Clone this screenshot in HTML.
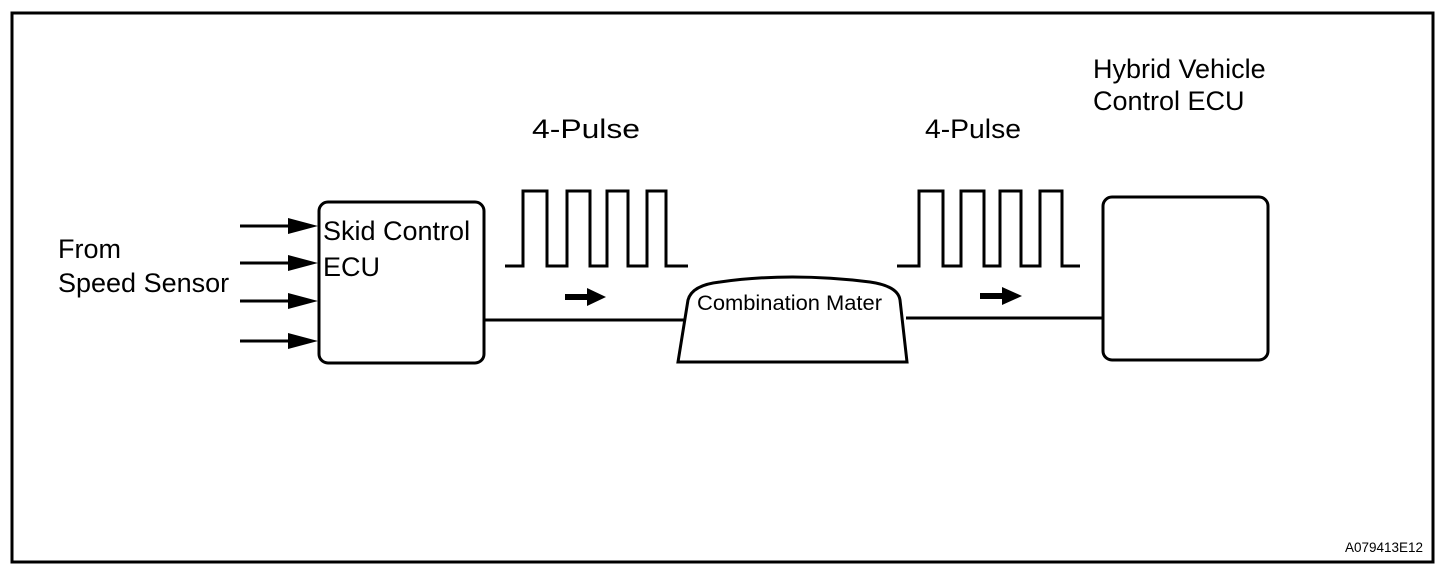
<!DOCTYPE html>
<html><head><style>
html,body{margin:0;padding:0;background:#fff;width:1456px;height:580px;overflow:hidden}
</style></head><body>
<svg width="1456" height="580" viewBox="0 0 1456 580" xmlns="http://www.w3.org/2000/svg" font-family="Liberation Sans, Arial, sans-serif">
<rect x="12" y="13" width="1421" height="549" fill="none" stroke="#000" stroke-width="3"/>
<g stroke="#000" stroke-width="3" fill="none">
<rect x="319" y="202" width="165" height="161" rx="9"/>
<rect x="1103" y="197" width="165" height="163" rx="9"/>
<line x1="484" y1="320" x2="684" y2="320"/>
<line x1="906" y1="318" x2="1103" y2="318"/>
<path d="M678,362 L688,300 Q692,285 720,282 Q790,272 870,282 Q898,286 900,300 L907,362 Z"/>
<polyline points="505,266 523,266 523,191 547,191 547,266 567,266 567,191 590,191 590,266 607,266 607,191 628,191 628,266 647,266 647,191 666,191 666,266 688,266"/>
<polyline points="897,266 919,266 919,191 943,191 943,266 961,266 961,191 984,191 984,266 1000,266 1000,191 1021,191 1021,266 1040,266 1040,191 1062,191 1062,266 1080,266"/>
<line x1="240" y1="226" x2="295" y2="226"/>
<line x1="240" y1="263" x2="295" y2="263"/>
<line x1="240" y1="301" x2="295" y2="301"/>
<line x1="240" y1="341" x2="295" y2="341"/>
</g>
<g fill="#000">
<polygon points="288,218 318,226 288,234"/>
<polygon points="288,255 318,263 288,271"/>
<polygon points="288,293 318,301 288,309"/>
<polygon points="288,333 318,341 288,349"/>
<rect x="565" y="294" width="24" height="6"/>
<polygon points="587,288 606,297 587,306"/>
<rect x="980" y="293" width="24" height="6"/>
<polygon points="1002,287 1022,296 1002,305"/>
</g>
<g fill="#000" font-size="27">
<text x="532" y="138" textLength="108" lengthAdjust="spacingAndGlyphs">4-Pulse</text>
<text x="925" y="138" textLength="96" lengthAdjust="spacingAndGlyphs">4-Pulse</text>
<text x="1093" y="78">Hybrid Vehicle</text>
<text x="1093" y="110">Control ECU</text>
<text x="58" y="258">From</text>
<text x="58" y="292">Speed Sensor</text>
<text x="323" y="240">Skid Control</text>
<text x="323" y="276">ECU</text>
<text x="697" y="310" font-size="21" textLength="185" lengthAdjust="spacingAndGlyphs">Combination Mater</text>
<text x="1345" y="552" font-size="14" textLength="78" lengthAdjust="spacingAndGlyphs">A079413E12</text>
</g>
</svg>
</body></html>
